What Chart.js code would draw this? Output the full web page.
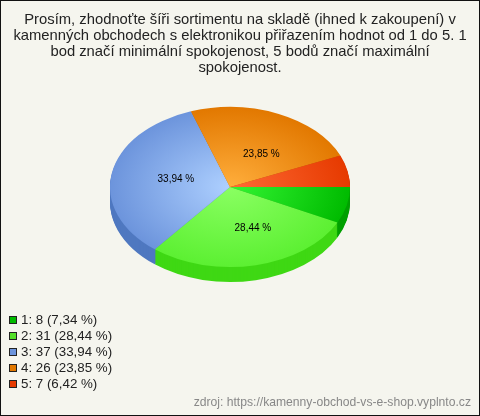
<!DOCTYPE html>
<html>
<head>
<meta charset="utf-8">
<script src="https://cdn.jsdelivr.net/npm/chart.js@4"></script>
<style>
    html, body { margin: 0; padding: 0; background: #f5f5ee; }
    #box { position: relative; width: 480px; height: 416px; overflow: hidden; font-family: "Liberation Sans", Arial, sans-serif; }
    #frame { position: absolute; inset: 0; border: 1px solid #111; pointer-events: none; }
    #legend { position: absolute; left: 8px; top: 312px; font-size: 13.33px; line-height: 16px; color: #222; }
    #legend div { display: flex; align-items: center; height: 16px; white-space: nowrap; }
    #legend i { display: block; width: 6px; height: 6px; border: 1px solid #222; margin: 0 4px 0 1px; }
    #source { position: absolute; right: 9px; top: 395px; font-size: 12.15px; line-height: 14px; color: #888; }
</style>
</head>
<body>
<div id="box">
    <canvas id="pieChart" width="480" height="416"></canvas>
    <div id="legend"></div>
    <div id="source"></div>
    <div id="frame"></div>
</div>
<script>
const titleLines = [
    'Prosím, zhodnoťte šíři sortimentu na skladě (ihned k zakoupení) v',
    'kamenných obchodech s elektronikou přiřazením hodnot od 1 do 5. 1',
    'bod značí minimální spokojenost, 5 bodů značí maximální',
    'spokojenost.'
];
const categories = ['1', '2', '3', '4', '5'];
const counts = [8, 31, 37, 26, 7];
const percents = ['7,34', '28,44', '33,94', '23,85', '6,42'];
const sourceText = 'zdroj: https://kamenny-obchod-vs-e-shop.vyplnto.cz';

const innerColors = ['#33f533', '#8aff62', '#aed0ff', '#ffae3c', '#ff6a35'];
const outerColors = ['#00bb00', '#5cf032', '#6c94dc', '#e27800', '#e63a00'];
const swatchColors = ['#00bb00', '#55e02a', '#6c94dc', '#e27800', '#e63a00'];
const sideColors = ['#00a000', '#3fd814', '#4f78c0', '#b86000', '#b83000'];

const squash = 2 / 3;
const depth = 15;
const shiftX = -10;

function applyTilt(ctx, x, y) {
    ctx.translate(x + shiftX, y);
    ctx.scale(1, squash);
    ctx.translate(-x, -y);
}

// chart.js has no 3d pie, so squash the arcs and stack darker copies under them
const tiltPlugin = {
    id: 'tilt',
    beforeDatasetsDraw(chart) {
        const ctx = chart.ctx;
        const arcs = chart.getDatasetMeta(0).data;
        const { x, y } = arcs[0];
        for (let d = depth; d > 0; d--) {
            ctx.save();
            ctx.translate(0, d);
            applyTilt(ctx, x, y);
            arcs.forEach((arc, i) => {
                const opts = arc.options;
                arc.options = { ...opts, backgroundColor: sideColors[i] };
                arc.draw(ctx);
                arc.options = opts;
            });
            ctx.restore();
        }
        ctx.save();
        applyTilt(ctx, x, y);
    },
    afterDatasetsDraw(chart, args, opts) {
        const ctx = chart.ctx;
        ctx.restore();
        const arcs = chart.getDatasetMeta(0).data;
        ctx.save();
        ctx.font = '10px "Liberation Sans", Arial, sans-serif';
        ctx.fillStyle = '#000';
        ctx.textAlign = 'center';
        ctx.textBaseline = 'middle';
        arcs.forEach((arc, i) => {
            if (parseFloat(percents[i]) < 10) return; // small slices have no label
            const mid = (arc.startAngle + arc.endAngle) / 2;
            const r = arc.outerRadius * 0.5;
            const px = arc.x + shiftX + Math.cos(mid) * r + opts.nudge[i][0];
            const py = arc.y + Math.sin(mid) * r * squash + opts.nudge[i][1];
            ctx.fillText(percents[i] + ' %', px, py);
        });
        ctx.restore();
    }
};

new Chart(document.getElementById('pieChart'), {
    type: 'pie',
    data: {
        labels: categories,
        datasets: [{
            data: counts,
            radius: 120,
            borderWidth: 0,
            clip: false,
            backgroundColor(c) {
                const area = c.chart.chartArea;
                if (!area) return outerColors[c.dataIndex];
                const x = (area.left + area.right) / 2;
                const y = (area.top + area.bottom) / 2;
                const g = c.chart.ctx.createRadialGradient(x, y, 0, x, y, 120);
                g.addColorStop(0, innerColors[c.dataIndex]);
                g.addColorStop(1, outerColors[c.dataIndex]);
                return g;
            }
        }]
    },
    options: {
        responsive: false,
        animation: false,
        rotation: 90,
        layout: { padding: { bottom: 118 } },
        plugins: {
            legend: { display: false },
            tooltip: { enabled: false },
            title: {
                display: true,
                text: titleLines,
                color: '#222',
                font: { family: '"Liberation Sans", Arial, sans-serif', size: 14.8, weight: 'normal', lineHeight: '16px' },
                padding: { top: 12, bottom: 0 }
            },
            tilt: { nudge: [[0, 0], [10, 2], [5, -1], [7, 4], [0, 0]] }
        }
    },
    plugins: [tiltPlugin]
});

const legendBox = document.getElementById('legend');
categories.forEach((cat, i) => {
    const row = document.createElement('div');
    const swatch = document.createElement('i');
    swatch.style.background = swatchColors[i];
    row.appendChild(swatch);
    row.appendChild(document.createTextNode(`${cat}: ${counts[i]} (${percents[i]} %)`));
    legendBox.appendChild(row);
});
document.getElementById('source').textContent = sourceText;
</script>
</body>
</html>
